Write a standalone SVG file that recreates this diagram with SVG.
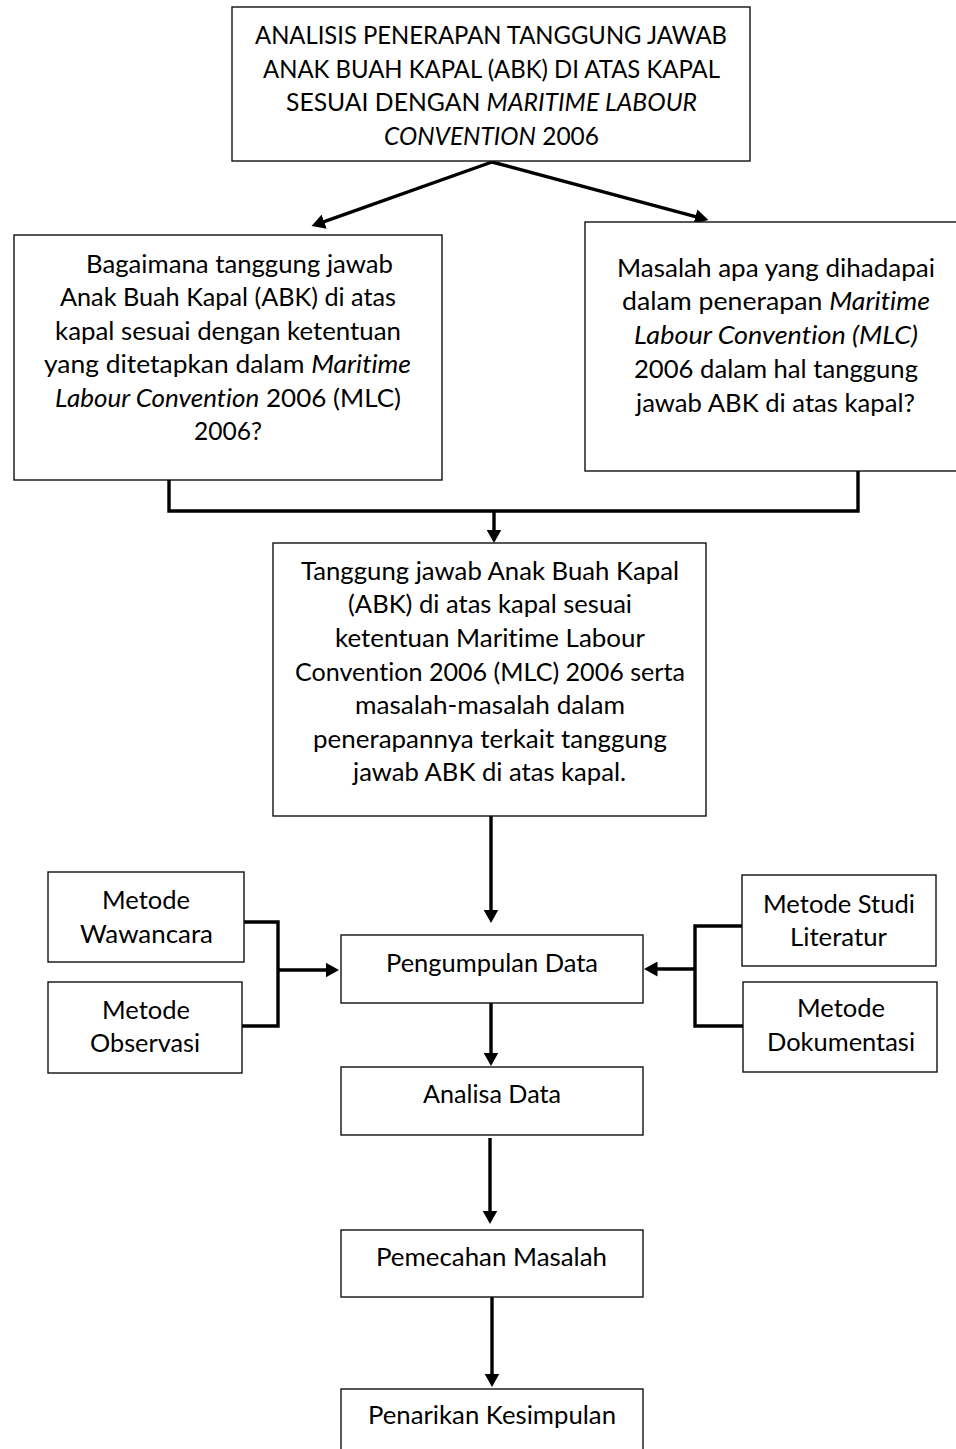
<svg xmlns="http://www.w3.org/2000/svg" width="956" height="1449" viewBox="0 0 956 1449">
<style>
.box{fill:#fff;stroke:#111;stroke-width:1.4}
.t{font-family:Lato,"Open Sans",sans-serif;font-size:25px;fill:#000;text-anchor:middle;font-variant-ligatures:none}
.i{font-style:italic}
.c{fill:none;stroke:#000;stroke-width:3.4}
.a{fill:none;stroke:#000;stroke-width:3.4;marker-end:url(#ah)}
</style>
<defs>
<marker id="ah" markerUnits="userSpaceOnUse" markerWidth="15" markerHeight="15" refX="3" refY="7.5" orient="auto">
<path d="M0,0 L13.5,7.5 L0,15 z" fill="#000"/>
</marker>
</defs>
<rect width="956" height="1449" fill="#fff"/>
<g id="connectors">
<path class="a" d="M492,162 L321.4,222.6"/>
<path class="a" d="M492,162 L698.3,217.4"/>
<path class="c" d="M169,480 V511 H858 V471"/>
<path class="a" d="M494,511 V532.5"/>
<path class="a" d="M491,816 V912.5"/>
<path class="c" d="M244,922 H278 V1026 H242"/>
<path class="a" d="M278,970 H328.5"/>
<path class="c" d="M742,926 H695 V1026 H743"/>
<path class="a" d="M695,969 H654.5"/>
<path class="a" d="M491,1003 V1055.5"/>
<path class="a" d="M490,1138 V1213.5"/>
<path class="a" d="M492,1297 V1376.5"/>
</g>
<g id="n-judul">
<rect class="box" x="232" y="7" width="518" height="154"/>
<text class="t" x="491" y="44" textLength="472" lengthAdjust="spacingAndGlyphs">ANALISIS PENERAPAN TANGGUNG JAWAB</text>
<text class="t" x="491.5" y="78" textLength="457" lengthAdjust="spacingAndGlyphs">ANAK BUAH KAPAL (ABK) DI ATAS KAPAL</text>
<text class="t" x="491.5" y="111" textLength="411" lengthAdjust="spacingAndGlyphs">SESUAI DENGAN <tspan class="i">MARITIME LABOUR</tspan></text>
<text class="t" x="491.5" y="145" textLength="215" lengthAdjust="spacingAndGlyphs"><tspan class="i">CONVENTION</tspan> 2006</text>
</g>
<g id="n-rumusan1">
<rect class="box" x="14" y="235" width="428" height="245"/>
<text class="t" x="239.5" y="273" textLength="307" lengthAdjust="spacingAndGlyphs">Bagaimana tanggung jawab</text>
<text class="t" x="228" y="306" textLength="336" lengthAdjust="spacingAndGlyphs">Anak Buah Kapal (ABK) di atas</text>
<text class="t" x="228" y="340" textLength="346" lengthAdjust="spacingAndGlyphs">kapal sesuai dengan ketentuan</text>
<text class="t" x="227.5" y="373" textLength="367" lengthAdjust="spacingAndGlyphs">yang ditetapkan dalam <tspan class="i">Maritime</tspan></text>
<text class="t" x="228" y="407" textLength="346" lengthAdjust="spacingAndGlyphs"><tspan class="i">Labour Convention</tspan> 2006 (MLC)</text>
<text class="t" x="228" y="440" textLength="68" lengthAdjust="spacingAndGlyphs">2006?</text>
</g>
<g id="n-rumusan2">
<rect class="box" x="585" y="222" width="380" height="249"/>
<text class="t" x="776" y="277" textLength="318" lengthAdjust="spacingAndGlyphs">Masalah apa yang dihadapai</text>
<text class="t" x="776" y="310" textLength="308" lengthAdjust="spacingAndGlyphs">dalam penerapan <tspan class="i">Maritime</tspan></text>
<text class="t i" x="776" y="344" textLength="284" lengthAdjust="spacingAndGlyphs">Labour Convention (MLC)</text>
<text class="t" x="776" y="378" textLength="284" lengthAdjust="spacingAndGlyphs">2006 dalam hal tanggung</text>
<text class="t" x="775.5" y="412" textLength="279" lengthAdjust="spacingAndGlyphs">jawab ABK di atas kapal?</text>
</g>
<g id="n-tujuan">
<rect class="box" x="273" y="543" width="433" height="273"/>
<text class="t" x="490" y="580" textLength="378" lengthAdjust="spacingAndGlyphs">Tanggung jawab Anak Buah Kapal</text>
<text class="t" x="490" y="613" textLength="284" lengthAdjust="spacingAndGlyphs">(ABK) di atas kapal sesuai</text>
<text class="t" x="490" y="647" textLength="310" lengthAdjust="spacingAndGlyphs">ketentuan Maritime Labour</text>
<text class="t" x="490" y="681" textLength="390" lengthAdjust="spacingAndGlyphs">Convention 2006 (MLC) 2006 serta</text>
<text class="t" x="490" y="714" textLength="270" lengthAdjust="spacingAndGlyphs">masalah-masalah dalam</text>
<text class="t" x="490" y="748" textLength="354" lengthAdjust="spacingAndGlyphs">penerapannya terkait tanggung</text>
<text class="t" x="489.5" y="781" textLength="273" lengthAdjust="spacingAndGlyphs">jawab ABK di atas kapal.</text>
</g>
<g id="n-wawancara">
<rect class="box" x="48" y="872" width="196" height="90"/>
<text class="t" x="146" y="909" textLength="88" lengthAdjust="spacingAndGlyphs">Metode</text>
<text class="t" x="146.5" y="943" textLength="133" lengthAdjust="spacingAndGlyphs">Wawancara</text>
</g>
<g id="n-observasi">
<rect class="box" x="48" y="982" width="194" height="91"/>
<text class="t" x="146" y="1019" textLength="88" lengthAdjust="spacingAndGlyphs">Metode</text>
<text class="t" x="145" y="1052" textLength="110" lengthAdjust="spacingAndGlyphs">Observasi</text>
</g>
<g id="n-literatur">
<rect class="box" x="742" y="875" width="194" height="91"/>
<text class="t" x="839" y="913" textLength="152" lengthAdjust="spacingAndGlyphs">Metode Studi</text>
<text class="t" x="838.5" y="946" textLength="97" lengthAdjust="spacingAndGlyphs">Literatur</text>
</g>
<g id="n-dokumentasi">
<rect class="box" x="743" y="982" width="194" height="90"/>
<text class="t" x="841" y="1017" textLength="88" lengthAdjust="spacingAndGlyphs">Metode</text>
<text class="t" x="841" y="1051" textLength="148" lengthAdjust="spacingAndGlyphs">Dokumentasi</text>
</g>
<g id="n-pengumpulan">
<rect class="box" x="341" y="935" width="302" height="68"/>
<text class="t" x="492" y="972" textLength="212" lengthAdjust="spacingAndGlyphs">Pengumpulan Data</text>
</g>
<g id="n-analisa">
<rect class="box" x="341" y="1067" width="302" height="68"/>
<text class="t" x="492" y="1103" textLength="138" lengthAdjust="spacingAndGlyphs">Analisa Data</text>
</g>
<g id="n-pemecahan">
<rect class="box" x="341" y="1230" width="302" height="67"/>
<text class="t" x="491.5" y="1266" textLength="231" lengthAdjust="spacingAndGlyphs">Pemecahan Masalah</text>
</g>
<g id="n-penarikan">
<rect class="box" x="341" y="1389" width="302" height="70"/>
<text class="t" x="492" y="1424" textLength="248" lengthAdjust="spacingAndGlyphs">Penarikan Kesimpulan</text>
</g>
</svg>
